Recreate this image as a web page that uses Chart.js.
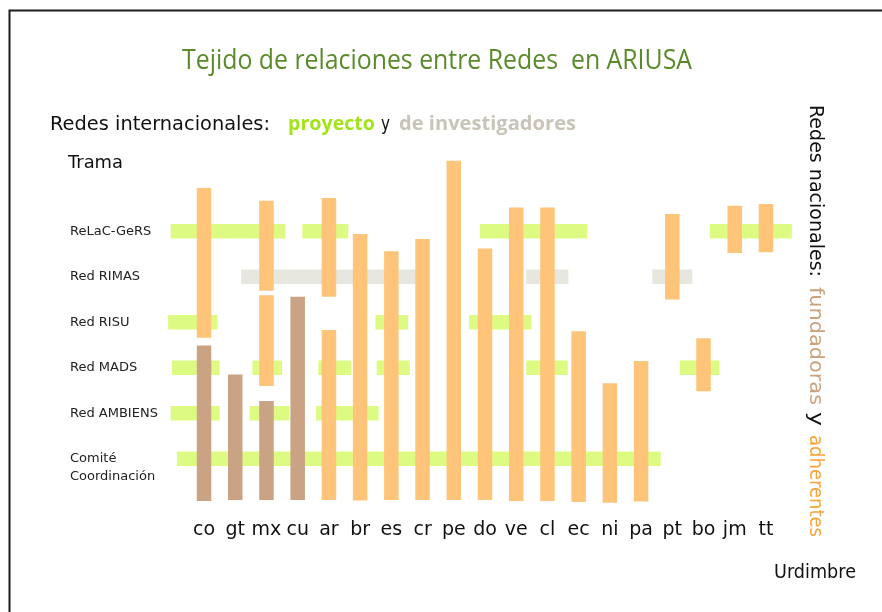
<!DOCTYPE html>
<html>
<head>
<meta charset="utf-8">
<script src="https://cdn.jsdelivr.net/npm/chart.js@4/dist/chart.umd.min.js"></script>
<style>
  body { margin: 0; background: #fff; }
  canvas { display: block; }
</style>
</head>
<body>
<canvas id="tejido" width="882" height="612"></canvas>
<script>
    /*      DATOS: urdimbre (redes nacionales) y trama (redes internacionales)     */

    var paises = ['co', 'gt', 'mx', 'cu', 'ar', 'br', 'es', 'cr', 'pe', 'do', 've', 'cl', 'ec', 'ni', 'pa', 'pt', 'bo', 'jm', 'tt'];
    var redes = [['', 'Comité', 'Coordinación'], 'Red AMBIENS', 'Red MADS', 'Red RISU', 'Red RIMAS', 'ReLaC-GeRS'];

    // hilos verticales: pais, desde, hasta (en niveles de la trama), tipo
    var urdimbrePais  = [0, 0, 1, 2, 2, 2, 3, 4, 4, 5, 6, 7, 8, 9, 10, 11, 12, 13, 14, 15, 16, 17, 18];
    var urdimbreDesde = [2.66, -0.93, -0.91, 3.69, 1.60, -0.91, -0.91, 3.56, -0.91, -0.92, -0.91, -0.91, -0.91, -0.91, -0.93, -0.93, -0.95, -0.97, -0.94, 3.50, 1.48, 4.52, 4.54];
    var urdimbreHasta = [5.95, 2.49, 1.85, 5.67, 3.59, 1.27, 3.56, 5.73, 2.83, 4.94, 4.56, 4.83, 6.55, 4.62, 5.52, 5.52, 2.80, 1.66, 2.15, 5.38, 2.65, 5.56, 5.60];
    var urdimbreTipo  = ['adherente', 'fundadora', 'fundadora', 'adherente', 'adherente', 'fundadora', 'fundadora',
                         'adherente', 'adherente', 'adherente', 'adherente', 'adherente', 'adherente', 'adherente',
                         'adherente', 'adherente', 'adherente', 'adherente', 'adherente', 'adherente', 'adherente',
                         'adherente', 'adherente'];

    // hilos horizontales: red, desde, hasta (en posiciones de pais), tipo
    var tramaRed   = [5, 5, 5, 5, 4, 4, 4, 3, 3, 3, 2, 2, 2, 2, 2, 2, 1, 1, 1, 0];
    var tramaDesde = [-1.07, 3.15, 8.84, 16.2, 1.19, 10.32, 14.36, -1.15, 5.49, 8.49, -1.03, 1.55, 3.66, 5.53, 10.32, 15.24, -1.07, 1.46, 3.59, -0.87];
    var tramaHasta = [2.6, 4.62, 12.27, 18.83, 6.85, 11.67, 15.64, 0.43, 6.54, 10.49, 0.5, 2.5, 4.72, 6.59, 11.65, 16.51, 0.5, 2.74, 5.59, 14.63];
    var tramaTipo  = ['proyecto', 'proyecto', 'proyecto', 'proyecto', 'investigadores', 'investigadores', 'investigadores',
                      'proyecto', 'proyecto', 'proyecto', 'proyecto', 'proyecto', 'proyecto', 'proyecto', 'proyecto',
                      'proyecto', 'proyecto', 'proyecto', 'proyecto', 'proyecto'];

    var colorUrdimbre = { adherente: '#FDC47A', fundadora: '#C9A383' };
    var colorTrama = { proyecto: '#DDFB82', investigadores: '#E7E7DF' };

    var datasets = [];
    urdimbrePais.forEach(function(p, i) {
        datasets.push({
            label: paises[p],
            data: [{ x: p, y: urdimbreDesde[i] }, { x: p, y: urdimbreHasta[i] }],
            borderColor: colorUrdimbre[urdimbreTipo[i]],
            order: 0
        });
    });
    tramaRed.forEach(function(r, i) {
        datasets.push({
            label: 'trama ' + r,
            data: [{ x: tramaDesde[i], y: r }, { x: tramaHasta[i], y: r }],
            borderColor: colorTrama[tramaTipo[i]],
            order: 1
        });
    });

    // escribe un texto ajustado al ancho que tiene en la figura
    function escribir(ctx, texto, x, y, ancho, fuente, color) {
        ctx.save();
        ctx.font = fuente;
        var w = ctx.measureText(texto).width;
        ctx.translate(x, y);
        ctx.scale(ancho / w, 1);
        ctx.fillStyle = color;
        ctx.textAlign = 'left';
        ctx.textBaseline = 'alphabetic';
        ctx.fillText(texto, 0, 0);
        ctx.restore();
    }

    var textos = {
        id: 'textos',
        afterDraw: function(chart) {
            var ctx = chart.ctx;
            ctx.save();
            ctx.strokeStyle = '#1c1c1c';
            ctx.lineWidth = 2;
            ctx.beginPath();
            ctx.moveTo(9.5, 612);
            ctx.lineTo(9.5, 10.5);
            ctx.lineTo(882, 10.5);
            ctx.stroke();

            escribir(ctx, 'Tejido de relaciones entre Redes  en ARIUSA', 182, 69, 510, '28px "Open Sans"', '#5B8A2B');

            escribir(ctx, 'Redes internacionales:', 50, 130, 220, '20px "DejaVu Sans"', '#111');
            escribir(ctx, 'proyecto', 288, 130, 87, 'bold 20px "Open Sans"', '#A3E31C');
            escribir(ctx, 'y', 381, 130, 9, '20px "DejaVu Sans"', '#111');
            escribir(ctx, 'de investigadores', 399, 130, 177, 'bold 20px "Open Sans"', '#C9C4BA');

            escribir(ctx, 'Trama', 68, 168, 55, '18px "DejaVu Sans"', '#111');
            escribir(ctx, 'Urdimbre', 774, 578, 82, '19px "DejaVu Sans"', '#111');

            ctx.translate(810, 105);
            ctx.rotate(Math.PI / 2);
            escribir(ctx, 'Redes nacionales:', 0, 0, 172, '20px "DejaVu Sans"', '#111');
            escribir(ctx, 'fundadoras', 182, 0, 118, '20px "DejaVu Sans"', '#C9A37F');
            escribir(ctx, 'y', 307, 0, 14, '20px "DejaVu Sans"', '#111');
            escribir(ctx, 'adherentes', 330, 0, 102, '20px "DejaVu Sans"', '#F8A43A');
            ctx.restore();
        }
    };

    var ctx = document.getElementById('tejido').getContext('2d');
    var myChart = new Chart(ctx, {
        type: 'line',
        data: { datasets: datasets },
        plugins: [textos],
        options: {
            responsive: false,
            animation: false,
            layout: {
                padding: { left: 70, right: 69.2, top: 140.2, bottom: 53.7 }
            },
            elements: {
                line: { borderWidth: 14.5, borderCapStyle: 'butt', tension: 0, fill: false },
                point: { radius: 0, hoverRadius: 0 }
            },
            plugins: {
                legend: { display: false },
                tooltip: { enabled: false }
            },
            scales: {
                x: {
                    type: 'linear',
                    min: -1.25,
                    max: 19.5,
                    grid: { display: false, drawTicks: false },
                    border: { display: false },
                    afterBuildTicks: function(scale) {
                        scale.ticks = paises.map(function(p, i) { return { value: i }; });
                    },
                    afterFit: function(scale) { scale.height = 45; },
                    ticks: {
                        autoSkip: false,
                        maxRotation: 0,
                        padding: 5,
                        color: '#111',
                        font: { family: 'DejaVu Sans', size: 19 },
                        callback: function(v) { return paises[v]; }
                    }
                },
                y: {
                    type: 'linear',
                    min: -1.2,
                    max: 7,
                    grid: { display: false, drawTicks: false },
                    border: { display: false },
                    afterBuildTicks: function(scale) {
                        scale.ticks = redes.map(function(r, i) { return { value: i }; });
                    },
                    afterFit: function(scale) { scale.width = 95; },
                    ticks: {
                        crossAlign: 'far',
                        padding: 0,
                        color: '#222',
                        font: { family: 'DejaVu Sans', size: 13, lineHeight: 1.35 },
                        callback: function(v) { return redes[v]; }
                    }
                }
            }
        }
    });
</script>
</body>
</html>
